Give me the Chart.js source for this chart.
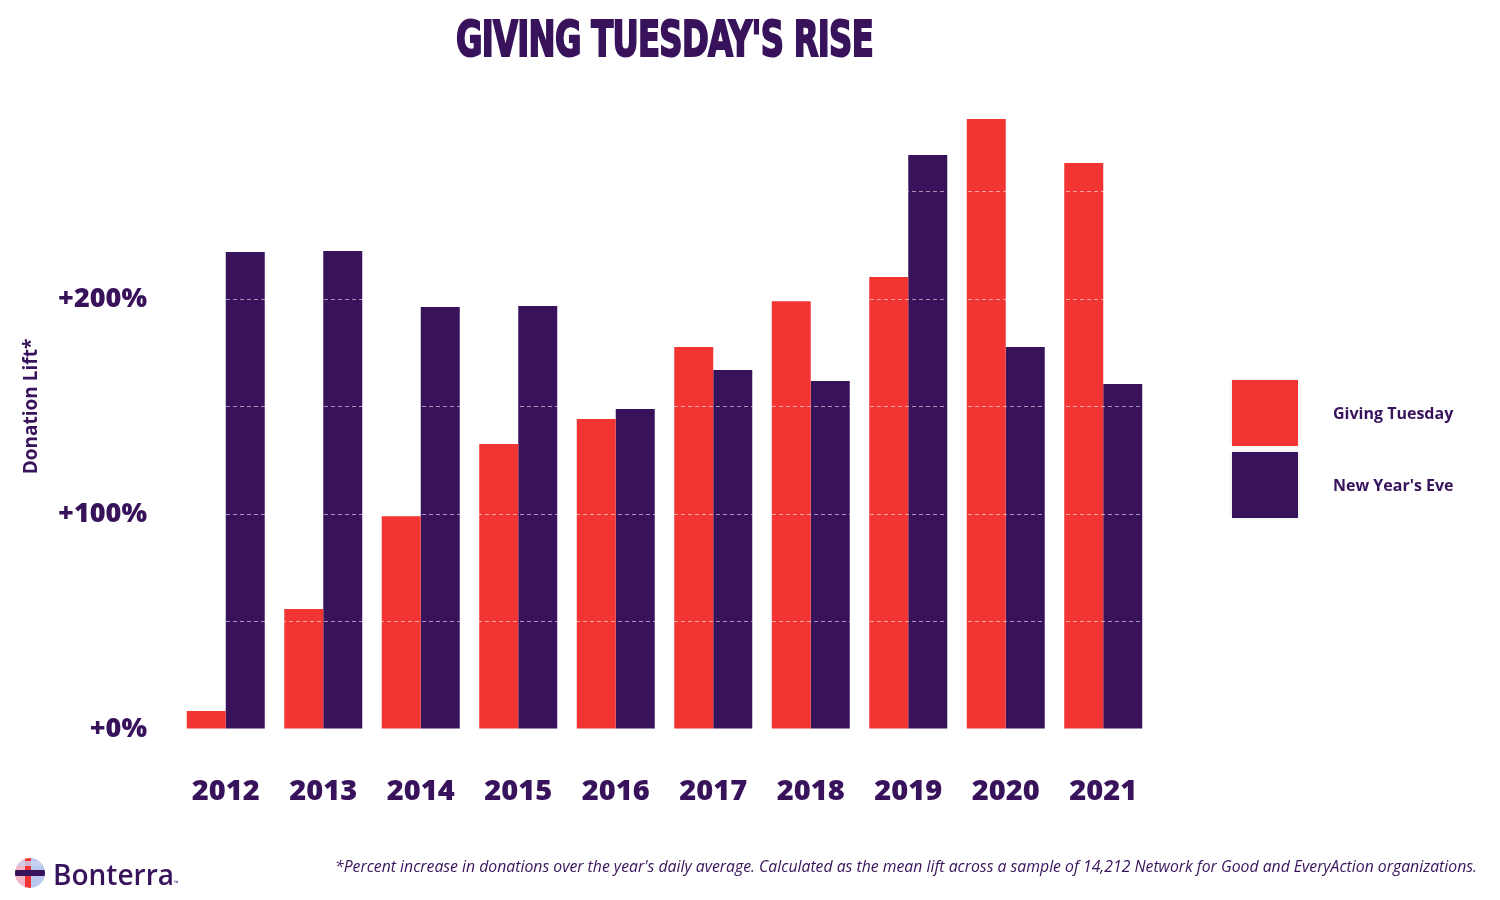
<!DOCTYPE html>
<html>
<head>
<meta charset="utf-8">
<script src="https://cdn.jsdelivr.net/npm/chart.js@4.4.0/dist/chart.umd.min.js"></script>
<style>
  html, body { margin: 0; padding: 0; background: #fff; }
  #page { position: relative; width: 1500px; height: 900px; overflow: hidden; font-family: "Open Sans", sans-serif; color: #38135b; }
  #wrap { position: absolute; left: 0; top: 0; width: 1500px; height: 900px; }
  #titre { position: absolute; left: 456px; top: 14px; white-space: nowrap; font-family: "DejaVu Sans Condensed", "Liberation Sans Narrow", sans-serif; font-weight: 900; font-size: 50px; line-height: 50px; transform-origin: 0 0; letter-spacing: -1px; -webkit-text-stroke: 2px #38135b; }
  .leg-box { position: absolute; left: 1232px; width: 66px; height: 66px; box-shadow: 0 0 4px rgba(0,0,0,0.12); }
  .leg-txt { position: absolute; left: 1333px; font-weight: 700; font-size: 16px; line-height: 20px; white-space: nowrap; }
  #note { position: absolute; left: 335px; top: 855px; font-style: italic; font-size: 16px; line-height: 22px; white-space: nowrap; transform-origin: 0 0; }
  #logo { position: absolute; left: 15px; top: 858px; width: 30px; height: 30px; border-radius: 50%; overflow: hidden;
          background: linear-gradient(90deg, #f3b6c8 0 35%, #f23433 35% 55%, #b9c6ee 55% 100%); }
  #logo .h { position: absolute; left: 0; top: 12px; width: 30px; height: 6px; background: #38135b; }
  #logo .h2 { position: absolute; left: 0; top: 3px; width: 30px; height: 5px; background: #c9d2f2; opacity: .8; }
  #marque { position: absolute; left: 53px; top: 856px; font-size: 28px; line-height: 36px; font-weight: 600; }
  #marque small { font-size: 6px; }
</style>
</head>
<body>
<div id="page">
  <div id="wrap"><canvas id="myChart" width="1500" height="900"></canvas></div>
  <div id="titre">GIVING TUESDAY'S RISE</div>
  <div id="legende"></div>
  <div id="logo"><div class="h2"></div><div class="h"></div></div>
  <div id="marque">Bonterra<small>™</small></div>
  <div id="note">*Percent increase in donations over the year's daily average. Calculated as the mean lift across a sample of 14,212 Network for Good and EveryAction organizations.</div>
</div>
<script>
//les données
var annees = ['2012', '2013', '2014', '2015', '2016', '2017', '2018', '2019', '2020', '2021'];
var givingTuesday = [8.4, 55.8, 99, 132.6, 144.2, 177.7, 199, 210.2, 283.7, 263.3];
var nouvelAn = [221.9, 222.3, 196.3, 196.7, 148.8, 167, 161.9, 267, 177.7, 160.5];
var series = ['Giving Tuesday', "New Year's Eve"];
var couleurs = ['#f23433', '#38135b'];
var graduations = ['+0%', '+100%', '+200%'];

//ajuster la largeur des textes
function ajuster (id, largeur) {
    var el = document.getElementById(id);
    var w = el.getBoundingClientRect().width;
    el.style.transform = 'scaleX(' + (largeur / w) + ')';
}
ajuster('titre', 417);
ajuster('note', 1142);

//légende
var legende = document.getElementById('legende');
for (var i = 0; i < series.length; i++) {
    var haut = 380 + i * 72;
    legende.innerHTML += '<div class="leg-box" style="top:' + haut + 'px;background:' + couleurs[i] + '"></div>' +
        '<div class="leg-txt" style="top:' + (haut + 23) + 'px">' + series[i] + '</div>';
}

//graphique
var ctx = document.getElementById('myChart').getContext('2d');
var chart = new Chart(ctx, {
    type: 'bar',
    data: {
        labels: annees,
        datasets: [{
            label: series[0],
            backgroundColor: couleurs[0],
            data: givingTuesday
        }, {
            label: series[1],
            backgroundColor: couleurs[1],
            data: nouvelAn
        }]
    },
    options: {
        responsive: false,
        animation: false,
        layout: { padding: { left: 14, right: 348, top: 84, bottom: 81 } },
        datasets: { bar: { categoryPercentage: 0.8, barPercentage: 1.0 } },
        plugins: { legend: { display: false }, tooltip: { enabled: false } },
        scales: {
            x: {
                grid: { display: false },
                border: { display: false },
                ticks: { color: '#38135b', padding: 37, font: { family: 'Open Sans', size: 29, weight: '800' } },
                afterFit: function (scale) { scale.height = 90; }
            },
            y: {
                min: 0,
                max: 300,
                grid: { z: 1, color: 'rgba(255,255,255,0.55)', drawTicks: false, lineWidth: 1 },
                border: { display: false, dash: [4, 3] },
                ticks: {
                    stepSize: 50,
                    padding: 30,
                    color: '#38135b',
                    font: { family: 'Open Sans', size: 27, weight: '800' },
                    callback: function (v) {
                        var k = v / 100;
                        return (v % 100 === 0 && graduations[k]) ? graduations[k] : '';
                    }
                },
                title: {
                    display: true,
                    text: 'Donation Lift*',
                    color: '#38135b',
                    padding: { top: 6, bottom: 0 },
                    font: { family: 'Open Sans', size: 19, weight: 'bold' }
                },
                afterFit: function (scale) { scale.width = 163; }
            }
        }
    }
});
</script>
</body>
</html>
